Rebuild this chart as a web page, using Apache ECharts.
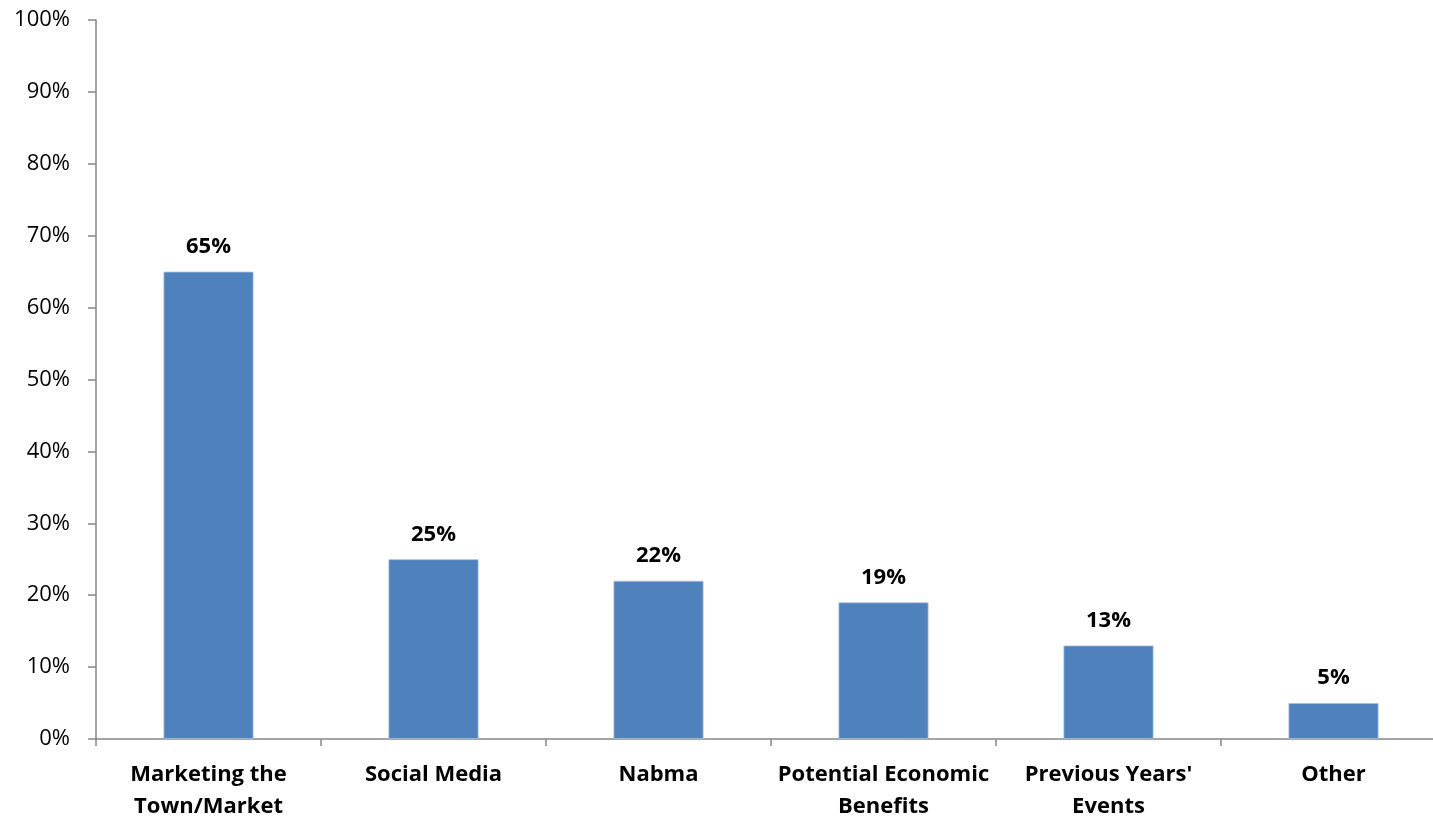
<!DOCTYPE html>
<html>
<head>
<meta charset="utf-8">
<script src="https://cdn.jsdelivr.net/npm/echarts@6/dist/echarts.min.js"></script>
<style>
  html, body { margin: 0; padding: 0; background: #fff; }
  #chart { width: 1433px; height: 817px; }
</style>
</head>
<body>
<div id="chart"></div>
<script>
// Reasons given, share of respondents (%)
const categories = [
  'Marketing the\nTown/Market',
  'Social Media',
  'Nabma',
  'Potential Economic\nBenefits',
  "Previous Years'\nEvents",
  'Other'
];
const shares = [65, 25, 22, 19, 13, 5];

const FONT = '"Open Sans", Lato, sans-serif';
const axisGray = '#868686';

const chart = echarts.init(document.getElementById('chart'));
chart.setOption({
  animation: false,
  grid: {
    left: 96, right: -13, top: 20, bottom: 78,
    containLabel: false,
    outerBoundsMode: 'none'
  },
  xAxis: {
    type: 'category',
    data: categories,
    axisLine: { lineStyle: { color: axisGray, width: 1.5 } },
    axisTick: { show: true, length: 7, alignWithLabel: false, lineStyle: { color: axisGray, width: 1.5 } },
    axisLabel: {
      interval: 0,
      color: '#000',
      fontFamily: FONT,
      fontWeight: 'bold',
      fontSize: 22,
      lineHeight: 32,
      margin: 20
    }
  },
  yAxis: {
    type: 'value',
    min: 0,
    max: 100,
    interval: 10,
    splitLine: { show: false },
    axisLine: { show: true, lineStyle: { color: axisGray, width: 1.5 } },
    axisTick: { show: true, length: 8, lineStyle: { color: axisGray, width: 1.5 } },
    axisLabel: {
      color: '#000',
      fontFamily: FONT,
      fontSize: 22,
      margin: 26,
      formatter: '{value}%'
    }
  },
  series: [{
    type: 'bar',
    data: shares,
    barWidth: '40%',
    itemStyle: { color: '#4F81BD', borderColor: '#A9C0DE', borderWidth: 0.8 },
    label: {
      show: true,
      position: 'top',
      distance: 14,
      color: '#000',
      fontFamily: FONT,
      fontWeight: 'bold',
      fontSize: 22,
      formatter: p => p.value + '%'
    }
  }]
});
</script>
</body>
</html>
